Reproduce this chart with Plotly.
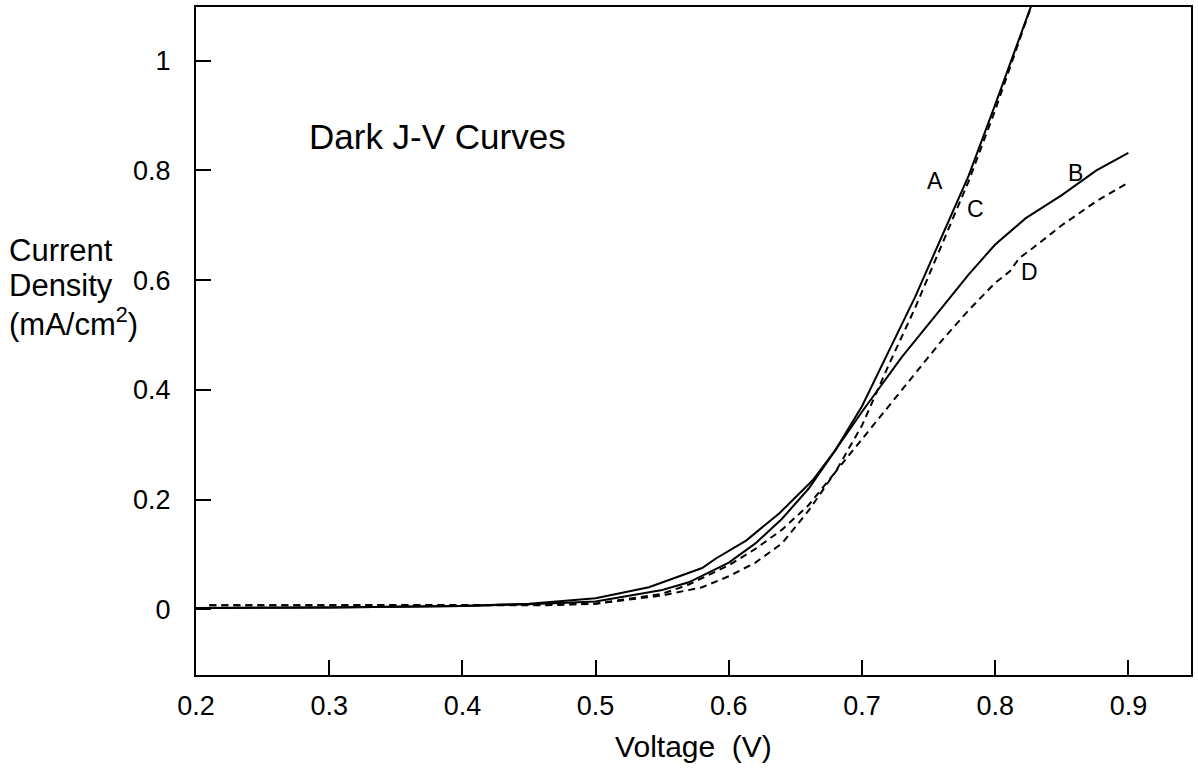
import plotly.graph_objects as go

# Curve A (solid)
vA = [0.2, 0.3, 0.4, 0.45, 0.5, 0.55, 0.57, 0.6, 0.62, 0.64, 0.66, 0.68, 0.70, 0.72, 0.74, 0.76, 0.78, 0.80, 0.83]
jA = [0.002, 0.003, 0.006, 0.009, 0.014, 0.035, 0.049, 0.085, 0.12, 0.165, 0.22, 0.29, 0.37, 0.47, 0.57, 0.68, 0.79, 0.92, 1.12]

# Curve B (solid)
vB = [0.2, 0.3, 0.4, 0.45, 0.5, 0.54, 0.58, 0.59, 0.613, 0.638, 0.663, 0.68, 0.70, 0.73, 0.76, 0.78, 0.80, 0.823, 0.85, 0.876, 0.90]
jB = [0.002, 0.003, 0.006, 0.01, 0.02, 0.04, 0.075, 0.092, 0.125, 0.175, 0.235, 0.29, 0.36, 0.46, 0.55, 0.61, 0.665, 0.713, 0.755, 0.80, 0.832]

# Curve C (dashed)
vC = [0.21, 0.3, 0.4, 0.46, 0.5, 0.55, 0.57, 0.6, 0.62, 0.64, 0.66, 0.68, 0.70, 0.72, 0.74, 0.76, 0.78, 0.80, 0.83]
jC = [0.007, 0.007, 0.007, 0.008, 0.01, 0.028, 0.045, 0.08, 0.11, 0.145, 0.19, 0.25, 0.335, 0.445, 0.55, 0.665, 0.78, 0.91, 1.12]

# Curve D (dashed)
vD = [0.21, 0.3, 0.4, 0.46, 0.5, 0.55, 0.58, 0.60, 0.62, 0.64, 0.66, 0.68, 0.70, 0.72, 0.73, 0.75, 0.76, 0.78, 0.80, 0.811, 0.818, 0.828, 0.85, 0.876, 0.90]
jD = [0.007, 0.007, 0.007, 0.007, 0.01, 0.025, 0.04, 0.06, 0.085, 0.12, 0.18, 0.25, 0.31, 0.37, 0.40, 0.46, 0.49, 0.545, 0.595, 0.616, 0.64, 0.658, 0.70, 0.744, 0.778]

x_ticks = [0.2, 0.3, 0.4, 0.5, 0.6, 0.7, 0.8, 0.9]
y_ticks = [0, 0.2, 0.4, 0.6, 0.8, 1]

curve_labels = ["A", "B", "C", "D"]
label_pos = [(0.755, 0.78), (0.86, 0.795), (0.785, 0.73), (0.826, 0.615)]

FONT = "Liberation Sans, Arial, sans-serif"

fig = go.Figure()
solid = dict(color="black", width=2)
dashed = dict(color="black", width=2, dash="7px,5px")
fig.add_trace(go.Scatter(x=vA, y=jA, mode="lines", line=solid, name="A"))
fig.add_trace(go.Scatter(x=vB, y=jB, mode="lines", line=solid, name="B"))
fig.add_trace(go.Scatter(x=vC, y=jC, mode="lines", line=dashed, name="C"))
fig.add_trace(go.Scatter(x=vD, y=jD, mode="lines", line=dashed, name="D"))

for lab, (lx, ly) in zip(curve_labels, label_pos):
    fig.add_annotation(x=lx, y=ly, xref="x", yref="y", text=lab, showarrow=False,
                       font=dict(size=23, color="black", family=FONT))

fig.add_annotation(x=0.381, y=0.862, xref="x", yref="y", text="Dark J-V Curves", showarrow=False,
                   font=dict(size=35, color="black", family=FONT))

for i, (t, py) in enumerate(zip(["Current", "Density", "(mA/cm<sup>2</sup>)"], [0.635, 0.583, 0.528])):
    fig.add_annotation(x=-0.19, y=py, xref="paper", yref="paper", text=t,
                       showarrow=False, xanchor="left", yanchor="middle",
                       font=dict(size=31, color="black", family=FONT))

fig.update_layout(
    width=1198, height=773,
    margin=dict(l=196, r=6, t=5, b=98),
    paper_bgcolor="white", plot_bgcolor="white",
    showlegend=False,
    font=dict(family=FONT, color="black"),
)
fig.update_xaxes(range=[0.2, 0.947], tickvals=x_ticks, ticks="inside", ticklen=15, tickwidth=2,
                 tickcolor="black", showline=True, linecolor="black", linewidth=2, mirror=True,
                 showgrid=False, zeroline=False, tickfont=dict(size=27), ticklabelstandoff=6,
                 title=dict(text="Voltage  (V)", font=dict(size=30), standoff=16))
fig.update_yaxes(range=[-0.12, 1.098], tickvals=y_ticks, ticks="inside", ticklen=15, tickwidth=2,
                 tickcolor="black", showline=True, linecolor="black", linewidth=2, mirror=True,
                 showgrid=False, zeroline=False, tickfont=dict(size=27), ticklabelstandoff=18)

fig.write_html("out.html")
